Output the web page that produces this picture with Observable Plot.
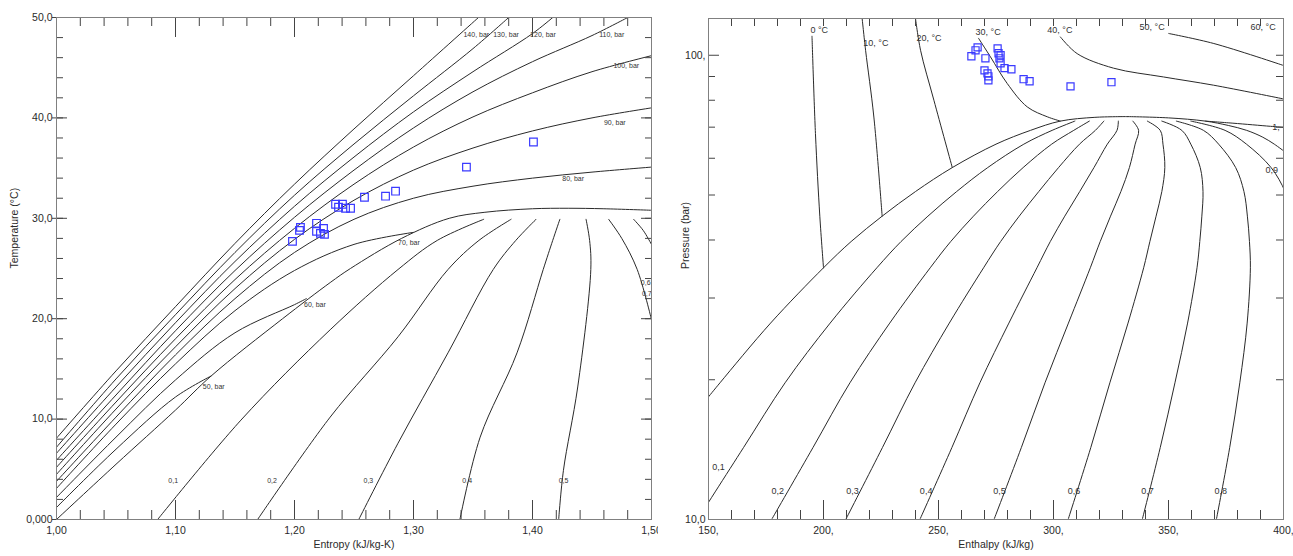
<!DOCTYPE html>
<html><head><meta charset="utf-8">
<script src="https://cdn.jsdelivr.net/npm/d3@7"></script>
<script src="https://cdn.jsdelivr.net/npm/@observablehq/plot@0.6"></script>
<style>
body{margin:0;background:#fff;}
#wrap{display:flex;width:1293px;height:556px;overflow:hidden}
svg{display:block}
</style></head><body><div id="wrap"></div>
<script>
// ================= LEFT PANEL: T-s diagram =================
const sMajor = [1.0, 1.1, 1.2, 1.3, 1.4, 1.5];
const sTickLabels = ["1,00", "1,10", "1,20", "1,30", "1,40", "1,50"];
const tMajor = [0, 10, 20, 30, 40, 50];
const tTickLabels = ["0,000", "10,0", "20,0", "30,0", "40,0", "50,0"];

// isobars [s (kJ/kg-K), T (°C)]
const isobar140 = [[1.0,8.1],[1.05,14.8],[1.1,21.2],[1.15,27.5],[1.2,33.4],[1.25,38.9],[1.3,44.2],[1.3546,50]];
const isobar130 = [[1.0,7.2],[1.05,14.0],[1.1,20.4],[1.15,26.6],[1.2,32.3],[1.25,37.4],[1.3,42.2],[1.35,46.9],[1.38,50]];
const isobar120 = [[1.0,6.6],[1.05,13.2],[1.1,19.6],[1.15,25.7],[1.2,31.2],[1.25,36.1],[1.3,40.6],[1.35,44.6],[1.4,48.4],[1.417,50]];
const isobar110 = [[1.0,5.9],[1.05,12.4],[1.1,18.8],[1.15,24.8],[1.2,30.1],[1.25,34.8],[1.3,39.0],[1.35,42.6],[1.4,45.6],[1.45,48.2],[1.48,50]];
const isobar100 = [[1.0,5.2],[1.05,11.7],[1.1,18.0],[1.15,23.9],[1.2,29.0],[1.25,33.4],[1.3,37.1],[1.35,40.1],[1.4,42.5],[1.45,44.6],[1.5,46.2]];
const isobar90 = [[1.0,4.5],[1.05,11.0],[1.1,17.2],[1.15,23.0],[1.2,27.9],[1.25,31.8],[1.3,34.8],[1.35,37.0],[1.4,38.7],[1.45,40.0],[1.5,41.0]];
const isobar80 = [[1.0,3.8],[1.05,10.2],[1.1,16.4],[1.15,22.0],[1.2,26.6],[1.25,29.9],[1.3,32.0],[1.35,33.2],[1.4,34.0],[1.45,34.6],[1.5,35.1]];
const isobar70 = [[1.0,3.1],[1.05,9.5],[1.1,15.5],[1.15,20.8],[1.2,24.8],[1.25,27.4],[1.3,28.6]];
const isobar60 = [[1.0,2.2],[1.05,8.2],[1.1,13.9],[1.15,18.6],[1.2,21.4],[1.21,22.0]];
const isobar50 = [[1.0,1.2],[1.05,7.0],[1.1,12.2],[1.13,14.3]];
// saturation dome
const satTs = [[1.0,0],[1.05,5.5],[1.1,10.9],[1.13,14.3],[1.19,20.0],[1.23,23.6],[1.247,25],[1.29,28.0],[1.33,30.0],[1.36,30.6],[1.4,30.95],[1.43,31.0],[1.46,30.95],[1.5,30.8]];
// quality lines
const qTs1 = [[1.085,0],[1.155,9.9],[1.23,18.9],[1.287,24.9],[1.32,27.8],[1.359,29.9]];
const qTs2 = [[1.169,0],[1.23,10.2],[1.287,18.2],[1.329,24.9],[1.355,27.8],[1.382,29.9]];
const qTs3 = [[1.254,0],[1.287,7.6],[1.329,16.6],[1.367,24.9],[1.386,27.8],[1.403,29.9]];
const qTs4 = [[1.339,0],[1.356,8.2],[1.387,16.6],[1.409,24.9],[1.417,27.8],[1.423,29.9]];
const qTs5 = [[1.422,0],[1.426,4.9],[1.438,13.2],[1.449,24.9],[1.448,27.8],[1.445,29.9]];
const qTs6 = [[1.5,19.9],[1.488,24.9],[1.475,28.0],[1.464,29.9]];
const qTs7 = [[1.5,27.4],[1.493,28.8],[1.485,29.9]];

const tsCurves = [
  ["p140", isobar140], ["p130", isobar130], ["p120", isobar120], ["p110", isobar110],
  ["p100", isobar100], ["p90", isobar90], ["p80", isobar80], ["p70", isobar70],
  ["p60", isobar60], ["p50", isobar50], ["sat", satTs],
  ["q1", qTs1], ["q2", qTs2], ["q3", qTs3], ["q4", qTs4], ["q5", qTs5], ["q6", qTs6], ["q7", qTs7]
];
const tsTable = tsCurves.flatMap(([name, pts]) => pts.map(([s, T]) => ({name, s, T})));

const tsLabelText = ["140, bar","130, bar","120, bar","110, bar","100, bar","90, bar","80, bar","70, bar","60, bar","50, bar","0,1","0,2","0,3","0,4","0,5","0,6","0,7"];
const tsLabelS = [1.342,1.367,1.398,1.456,1.468,1.460,1.425,1.287,1.208,1.123,1.094,1.177,1.258,1.341,1.422,1.491,1.492];
const tsLabelT = [48.3,48.3,48.3,48.3,45.2,39.5,33.9,27.6,21.4,13.2,3.9,3.9,3.9,3.9,3.9,23.6,22.5];
const tsLabels = tsLabelText.map((t, i) => ({t, s: tsLabelS[i], T: tsLabelT[i]}));

// measured states (blue squares)
const ptS = [1.1983,1.2042,1.2050,1.2185,1.2185,1.2218,1.2244,1.2252,1.2345,1.2370,1.2403,1.2429,1.2471,1.2588,1.2765,1.2849,1.3445,1.4008];
const ptT = [27.7,28.8,29.1,29.5,28.7,28.5,29.0,28.4,31.4,31.1,31.4,31.0,31.0,32.1,32.2,32.7,35.1,37.6];
const tsPoints = ptS.map((s, i) => ({s, T: ptT[i]}));

// ================= RIGHT PANEL: P-h diagram =================
const hMajor = [150, 200, 250, 300, 350, 400];
const hTickLabels = ["150,", "200,", "250,", "300,", "350,", "400,"];
const pMajor = [10, 100];
const pTickLabels = ["10,0", "100,"];
const pMinor = [20, 30, 40, 50, 60, 70, 80, 90];

// isotherms [h (kJ/kg), P (bar)]
const iso0 = [[195.0,109.9],[196.5,67.8],[198.4,45.0],[200.0,34.85]];
const iso10 = [[216.8,120],[218.3,102.5],[221.9,73.6],[225.5,45.02]];
const iso20 = [[240.0,120],[242.2,102.5],[248.0,80.0],[256.0,57.29]];
const iso30 = [[267.4,108.8],[272.6,99.2],[279.9,86.9],[288.6,77.4],[297.3,73.7],[303.0,72.14]];
const iso30v = [[366.0,72.14],[378.0,71.4],[394.3,70.3],[400.5,69.9]];
const iso40 = [[303.0,109.5],[310.3,100.8],[326.1,93.8],[347.8,89.8],[369.6,86.2],[399.6,80.6]];
const iso50 = [[350.1,111.4],[369.7,106.0],[399.6,95.2]];
// saturation dome
const satLiq = [[149.9,18.35],[155.0,19.7],[177.0,26.49],[200.0,34.85],[212.0,39.69],[225.5,45.02],[240.0,50.87],[256.0,57.29],[275.0,64.34],[290.0,68.9],[303.0,72.14],[318.0,73.5],[332.0,73.77]];
const satVap = [[332.0,73.77],[350.0,73.3],[366.0,72.14],[376.0,70.6],[384.0,68.9],[391.0,66.6],[396.0,64.34],[400.5,62.0]];
// quality lines
const qPh1 = [[145.5,10.05],[165.2,14.28],[183.3,19.7],[202.9,26.49],[223.2,34.85],[233.7,39.69],[245.4,45.02],[257.9,50.87],[271.4,57.29],[287.1,64.34],[299.4,68.9],[309.3,72.14]];
const qPh2 = [[177.7,10.05],[195.4,14.28],[211.5,19.7],[228.8,26.49],[246.4,34.85],[255.3,39.69],[265.2,45.02],[275.7,50.87],[286.8,57.29],[299.2,64.34],[308.8,68.9],[315.6,72.14]];
const qPh3 = [[209.9,10.05],[225.6,14.28],[239.8,19.7],[254.7,26.49],[269.6,34.85],[277.0,39.69],[285.1,45.02],[293.6,50.87],[302.2,57.29],[311.3,64.34],[318.2,68.9],[321.9,72.14]];
const qPh4 = [[242.1,10.05],[255.8,14.28],[268.0,19.7],[280.6,26.49],[292.8,34.85],[298.6,39.69],[304.9,45.02],[311.4,50.87],[317.6,57.29],[323.4,64.34],[327.6,68.9],[328.2,72.14]];
const qPh5 = [[274.3,10.05],[286.0,14.28],[296.3,19.7],[306.5,26.49],[316.0,34.85],[320.3,39.69],[324.8,45.02],[329.3,50.87],[333.0,57.29],[335.5,64.34],[337.0,68.9],[334.5,72.14]];
const qPh6 = [[306.5,10.05],[316.2,14.28],[324.5,19.7],[332.4,26.49],[339.2,34.85],[341.9,39.69],[344.6,45.02],[347.1,50.87],[348.4,57.29],[347.6,64.34],[346.4,68.9],[340.8,72.14]];
const qPh7 = [[338.7,10.05],[346.4,14.28],[352.8,19.7],[358.3,26.49],[362.4,34.85],[363.6,39.69],[364.5,45.02],[365.0,50.87],[363.8,57.29],[359.7,64.34],[355.8,68.9],[347.1,72.14]];
const qPh8 = [[370.9,10.05],[376.6,14.28],[381.0,19.7],[384.2,26.49],[385.6,34.85],[385.2,39.69],[384.3,45.02],[382.8,50.87],[379.2,57.29],[371.8,64.34],[365.2,68.9],[353.4,72.14]];
const qPh9 = [[404.2,45.02],[400.7,50.87],[394.6,57.29],[383.9,64.34],[374.6,68.9],[359.7,72.14]];

const phCurves = [
  ["t0", iso0], ["t10", iso10], ["t20", iso20], ["t30", iso30], ["t30v", iso30v], ["t40", iso40], ["t50", iso50],
  ["sl", satLiq], ["sv", satVap],
  ["q1", qPh1], ["q2", qPh2], ["q3", qPh3], ["q4", qPh4], ["q5", qPh5], ["q6", qPh6], ["q7", qPh7], ["q8", qPh8], ["q9", qPh9]
];
const phTable = phCurves.flatMap(([name, pts]) => pts.map(([h, P]) => ({name, h, P})));

const phLabelText = ["0 °C","10, °C","20, °C","30, °C","40, °C","50, °C","60, °C","0,1","0,2","0,3","0,4","0,5","0,6","0,7","0,8","0,9","1,"];
const phLabelH = [194.3,217.3,240.4,266.1,297.3,337.4,385.7,151.6,177.4,209.9,241.9,273.8,306.2,338.1,370.0,392.2,395.1];
const phLabelP = [113.2,106.1,108.8,112.1,113.2,114.9,114.9,12.97,11.5,11.5,11.5,11.5,11.5,11.5,11.5,56.5,70.1];
const phLabels = phLabelText.map((t, i) => ({t, h: phLabelH[i], P: phLabelP[i]}));

const ptH = [264.3,266.1,267.0,270.4,270.0,271.3,271.7,271.7,275.7,276.1,277.0,276.5,277.0,278.7,281.7,287.0,289.6,307.4,325.2];
const ptP = [99.5,102.5,104.0,98.5,92.8,91.4,90.1,88.3,103.5,101.0,100.0,98.5,96.1,93.8,93.3,88.8,87.9,85.7,87.5];
const phPoints = ptH.map((h, i) => ({h, P: ptP[i]}));

// ================= drawing =================
const FONT = "'Liberation Sans', Arial, sans-serif";
const INK = "#2a2a2a", TICK = "#444", FRAME = "#808080", BLUE = "#3a3aff";

// left panel geometry
const L = {width: 658, height: 556, ml: 56, mr: 7, mt: 17, mb: 37};
const Lw = L.width - L.ml - L.mr, Lh = L.height - L.mt - L.mb;
const sDom = [1.0, 1.5], tDom = [0, 50];
const ks = (sDom[1] - sDom[0]) / Lw, kt = (tDom[1] - tDom[0]) / Lh; // data units per px
const sMinor = d3.range(1.0, 1.5001, 0.02);
const tMinor = d3.range(0, 50.001, 2);

const left = Plot.plot({
  width: L.width, height: L.height,
  marginLeft: L.ml, marginRight: L.mr, marginTop: L.mt, marginBottom: L.mb,
  style: {fontFamily: FONT, background: "white", overflow: "visible"},
  x: {domain: sDom, axis: null},
  y: {domain: tDom, axis: null},
  marks: [
    Plot.line(tsTable, {x: "s", y: "T", z: "name", stroke: INK, strokeWidth: 1, curve: "catmull-rom", clip: true}),
    Plot.text(tsLabels, {x: "s", y: "T", text: "t", fontSize: 7, fill: "#333", textAnchor: "start"}),
    Plot.dot(tsPoints, {x: "s", y: "T", symbol: "square", r: 4.3, stroke: BLUE, fill: "none", strokeWidth: 1.2}),
    // inward ticks
    Plot.ruleX(sMinor, {x: d => d, y1: tDom[0], y2: tDom[0] + 9 * kt, stroke: TICK}),
    Plot.ruleX(sMinor, {x: d => d, y1: tDom[1], y2: tDom[1] - 9 * kt, stroke: TICK}),
    Plot.ruleX(sMajor, {x: d => d, y1: tDom[0], y2: tDom[0] + 19 * kt, stroke: TICK}),
    Plot.ruleX(sMajor, {x: d => d, y1: tDom[1], y2: tDom[1] - 20 * kt, stroke: TICK}),
    Plot.ruleY(tMinor, {y: d => d, x1: sDom[0], x2: sDom[0] + 7 * ks, stroke: TICK}),
    Plot.ruleY(tMajor, {y: d => d, x1: sDom[0] - 4 * ks, x2: sDom[0] + 11 * ks, stroke: TICK}),
    Plot.ruleY(tMinor, {y: d => d, x1: sDom[1], x2: sDom[1] - 6 * ks, stroke: TICK}),
    Plot.ruleY(tMajor, {y: d => d, x1: sDom[1], x2: sDom[1] - 10 * ks, stroke: TICK}),
    Plot.frame({stroke: FRAME}),
    // tick labels
    Plot.text(sMajor, {x: d => d, y: tDom[0], text: (d, i) => sTickLabels[i], dy: 11, fontSize: 10.5, fill: INK}),
    Plot.text(tMajor, {x: sDom[0], y: d => d, text: (d, i) => tTickLabels[i], dx: -4, textAnchor: "end", fontSize: 10.5, fill: INK}),
    // axis titles
    Plot.text(["Entropy (kJ/kg-K)"], {frameAnchor: "bottom", text: d => d, dy: 28, fontSize: 10.5, fill: INK}),
    Plot.text(["Temperature (°C)"], {frameAnchor: "left", text: d => d, dx: -42, rotate: -90, fontSize: 10.5, fill: INK})
  ]
});

// right panel geometry
const R = {width: 635, height: 556, ml: 50, mr: 10, mt: 18, mb: 37};
const Rw = R.width - R.ml - R.mr, Rh = R.height - R.mt - R.mb;
const hDom = [150, 400], pDom = [10, 120];
const kh = (hDom[1] - hDom[0]) / Rw;
const decadePx = Rh / Math.log10(pDom[1] / pDom[0]);
const up = px => Math.pow(10, px / decadePx);
const hMinor = d3.range(150, 400.1, 10);
const pAll = pMinor.concat([100]);

const right = Plot.plot({
  width: R.width, height: R.height,
  marginLeft: R.ml, marginRight: R.mr, marginTop: R.mt, marginBottom: R.mb,
  style: {fontFamily: FONT, background: "white", overflow: "visible"},
  x: {domain: hDom, axis: null},
  y: {type: "log", domain: pDom, axis: null},
  marks: [
    Plot.line(phTable, {x: "h", y: "P", z: "name", stroke: INK, strokeWidth: 1, curve: "catmull-rom", clip: true}),
    Plot.text(phLabels, {x: "h", y: "P", text: "t", fontSize: 9, fill: "#333", textAnchor: "start"}),
    Plot.dot(phPoints, {x: "h", y: "P", symbol: "square", r: 4, stroke: BLUE, fill: "none", strokeWidth: 1.2}),
    Plot.ruleX(hMinor, {x: d => d, y1: pDom[0], y2: pDom[0] * up(9), stroke: TICK}),
    Plot.ruleX(hMajor, {x: d => d, y1: pDom[0], y2: pDom[0] * up(19), stroke: TICK}),
    Plot.ruleX(hMinor, {x: d => d, y1: pDom[1], y2: pDom[1] / up(8), stroke: TICK}),
    Plot.ruleY(pMinor, {y: d => d, x1: hDom[0], x2: hDom[0] + 7 * kh, stroke: TICK}),
    Plot.ruleY([100], {y: d => d, x1: hDom[0], x2: hDom[0] + 11 * kh, stroke: TICK}),
    Plot.ruleY(pAll, {y: d => d, x1: hDom[1], x2: hDom[1] - 7 * kh, stroke: TICK}),
    Plot.frame({stroke: FRAME}),
    Plot.text(hMajor, {x: d => d, y: pDom[0], text: (d, i) => hTickLabels[i], dy: 11, fontSize: 10.5, fill: INK}),
    Plot.text(pMajor, {x: hDom[0], y: d => d, text: (d, i) => pTickLabels[i], dx: -3, textAnchor: "end", fontSize: 10.5, fill: INK}),
    Plot.text(["Enthalpy (kJ/kg)"], {frameAnchor: "bottom", text: d => d, dy: 28, fontSize: 10.5, fill: INK}),
    Plot.text(["Pressure (bar)"], {frameAnchor: "left", text: d => d, dx: -23, rotate: -90, fontSize: 10.5, fill: INK})
  ]
});

const wrap = document.getElementById("wrap");
wrap.appendChild(left);
wrap.appendChild(right);
</script></body></html>
